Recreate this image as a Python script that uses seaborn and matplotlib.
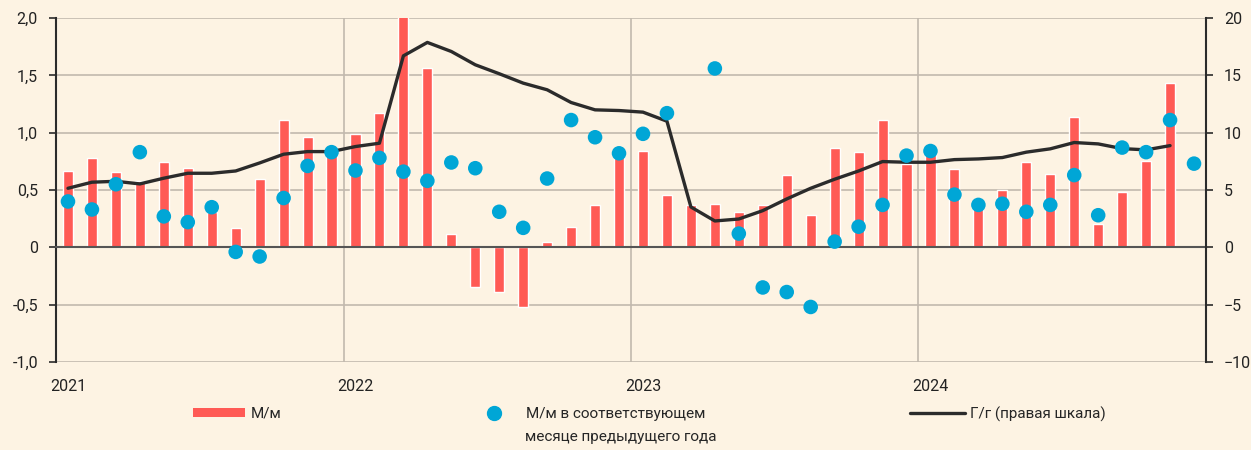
import numpy as np
import pandas as pd
import matplotlib
matplotlib.use("Agg")
import matplotlib.pyplot as plt
import seaborn as sns
from matplotlib.lines import Line2D
from matplotlib.patches import Patch

# monthly data, Jan 2021 .. Dec 2024
years = ["2021", "2022", "2023", "2024"]

# M/m, % (Jan 2021 .. Nov 2024)
mom = [0.67, 0.78, 0.66, 0.58, 0.74, 0.69, 0.31, 0.17, 0.60, 1.11, 0.96, 0.82,
       0.99, 1.17, 2.10, 1.56, 0.12, -0.35, -0.39, -0.52, 0.05, 0.18, 0.37, 0.80,
       0.84, 0.46, 0.37, 0.38, 0.31, 0.37, 0.63, 0.28, 0.87, 0.83, 1.11, 0.73,
       0.81, 0.68, 0.36, 0.50, 0.74, 0.64, 1.14, 0.20, 0.48, 0.75, 1.43]

# M/m in the same month of previous year, % (Jan 2021 .. Dec 2024)
mom_prev = [0.40, 0.33, 0.55, 0.83, 0.27, 0.22, 0.35, -0.04, -0.08, 0.43, 0.71, 0.83,
            0.67, 0.78, 0.66, 0.58, 0.74, 0.69, 0.31, 0.17, 0.60, 1.11, 0.96, 0.82,
            0.99, 1.17, 2.10, 1.56, 0.12, -0.35, -0.39, -0.52, 0.05, 0.18, 0.37, 0.80,
            0.84, 0.46, 0.37, 0.38, 0.31, 0.37, 0.63, 0.28, 0.87, 0.83, 1.11, 0.73]

# Y/y, % (right axis), Jan 2021 .. Nov 2024
yoy = [5.15, 5.68, 5.76, 5.53, 6.03, 6.46, 6.46, 6.66, 7.36, 8.12, 8.35, 8.35,
       8.79, 9.08, 16.70, 17.87, 17.08, 15.92, 15.14, 14.32, 13.74, 12.63, 11.99, 11.93,
       11.79, 11.00, 3.52, 2.30, 2.47, 3.20, 4.22, 5.15, 5.94, 6.66, 7.48, 7.42,
       7.42, 7.65, 7.71, 7.83, 8.30, 8.59, 9.14, 9.02, 8.61, 8.50, 8.87]

BG = "#FDF3E3"
RED = "#FF5A55"
BLUE = "#00A6D6"
DARK = "#2B2B2B"
GRID = "#C2B9AE"

sns.set_style("white")
plt.rcParams["font.family"] = ["Roboto", "DejaVu Sans"]
plt.rcParams["font.size"] = 11

n = len(mom_prev)
pos = np.arange(n)
df_bar = pd.DataFrame({"x": pos[:len(mom)], "v": mom})
df_dot = pd.DataFrame({"x": pos, "v": mom_prev})
df_line = pd.DataFrame({"x": pos[:len(yoy)], "v": yoy})

fig = plt.figure(figsize=(12.51, 4.5), dpi=100, facecolor=BG)
ax = fig.add_axes([56 / 1251, 1 - 362 / 450, 1150 / 1251, 344 / 450])
ax.set_facecolor(BG)

sns.barplot(data=df_bar, x="x", y="v", native_scale=True, width=0.42,
            color=RED, saturation=1, errorbar=None, ax=ax, zorder=2)

ax.set_xlim(-0.5, n - 0.5)
ax.set_ylim(-1.0, 2.0)
left_ticks = np.arange(-1.0, 2.01, 0.5)
ax.set_yticks(left_ticks)
ax.set_yticklabels(["0" if abs(v) < 1e-9 else f"{v:.1f}".replace(".", ",")
                    for v in left_ticks], color="#222222", fontsize=11.5)
ax.yaxis.grid(True, color=GRID, lw=1.2)
ax.set_axisbelow(True)
for yb in [11.5, 23.5, 35.5]:
    ax.axvline(yb, color=GRID, lw=1.2, zorder=0)
ax.set_xlabel("")
ax.set_ylabel("")

# x axis sits at zero with year-boundary ticks
ax.spines["bottom"].set_position(("data", 0))
ax.spines["bottom"].set_color("#555555")
ax.spines["bottom"].set_linewidth(1.5)
ax.spines["top"].set_visible(False)
ax.spines["right"].set_visible(False)
ax.spines["left"].set_color(DARK)
ax.spines["left"].set_linewidth(1.5)
ax.set_xticks([-0.5, 11.5, 23.5, 35.5])
ax.set_xticklabels([])
ax.tick_params(axis="x", direction="out", length=5, width=1.5, color="#333333")
ax.tick_params(axis="y", direction="out", length=5, width=1.2, color=DARK, pad=8)

for i, yr in enumerate(years):
    ax.text(i * 12, -0.07, yr, transform=ax.get_xaxis_transform(),
            ha="center", va="center", fontsize=11.5, color="#222222")

# right axis: Y/y line
ax2 = ax.twinx()
sns.lineplot(data=df_line, x="x", y="v", color=DARK, lw=2.4, ax=ax2)
ax2.set_ylim(-10, 20)
ax2.set_yticks(np.arange(-10, 21, 5))
ax2.set_xlim(-0.5, n - 0.5)
ax2.set_ylabel("")
for s in ["top", "left", "bottom"]:
    ax2.spines[s].set_visible(False)
ax2.spines["right"].set_color(DARK)
ax2.spines["right"].set_linewidth(1.5)
ax2.tick_params(axis="y", direction="out", length=5, width=1.2, color=DARK, pad=8,
                labelcolor="#222222", labelsize=11.5)

# dots on top, sharing left scale
ax3 = ax.twinx()
sns.scatterplot(data=df_dot, x="x", y="v", color=BLUE, s=110, edgecolor="none", ax=ax3)
ax3.set_ylim(ax.get_ylim())
ax3.set_xlim(-0.5, n - 0.5)
ax3.set_axis_off()

# legends
h1 = [Patch(facecolor=RED, edgecolor="none")]
fig.legend(h1, ["М/м"], loc="center left", bbox_to_anchor=(193 / 1251, 1 - 414 / 450),
           frameon=False, borderpad=0, borderaxespad=0, handlelength=3.4,
           handleheight=0.55, handletextpad=0.35, fontsize=11)
h2 = [Line2D([], [], marker="o", ls="none", color=BLUE, markersize=10)]
fig.legend(h2, ["М/м в соответствующем"], loc="center left",
           bbox_to_anchor=(486 / 1251, 1 - 414 / 450), frameon=False, borderpad=0,
           borderaxespad=0, handlelength=1.0, handletextpad=1.6, fontsize=11)
fig.text(525 / 1251, 1 - 437 / 450, "месяце предыдущего года", ha="left", va="center",
         fontsize=11)
h3 = [Line2D([], [], color=DARK, lw=2.4)]
fig.legend(h3, ["Г/г (правая шкала)"], loc="center left",
           bbox_to_anchor=(910 / 1251, 1 - 414 / 450), frameon=False, borderpad=0,
           borderaxespad=0, handlelength=3.6, handletextpad=0.35, fontsize=11)

fig.savefig("out.png", dpi=100, facecolor=BG)
